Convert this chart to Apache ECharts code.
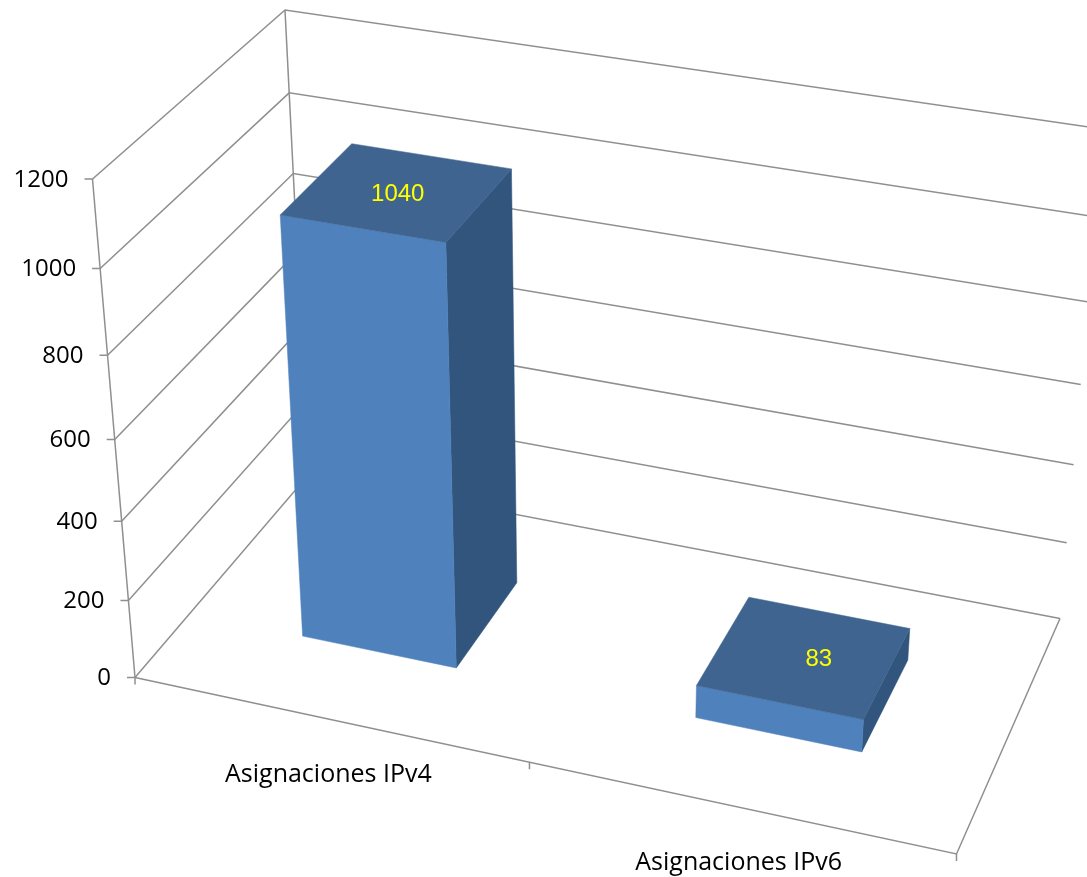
<!DOCTYPE html>
<html><head><meta charset="utf-8">
<style>html,body{margin:0;padding:0;background:#fff}#c{width:1087px;height:877px}</style>
<script src="https://cdn.jsdelivr.net/npm/echarts@6/dist/echarts.min.js"></script>
</head><body><div id="c"></div>
<script>
const categories = ['Asignaciones IPv4', 'Asignaciones IPv6'];
const assignments = [1040, 83];
const yTicks = [0, 200, 400, 600, 800, 1000, 1200];

const W = 1087, H = 877;
// Projected corners of the chart box (layout only)
const O = [135, 677.5], U = [956.5, 854], UD = [1060, 618.5], V = [92.5, 179], VD = [285, 10];
// depth vanishing point: where the two receding edges meet; the hidden back corner lies on its line through O
const Zs = (() => {
  const a = [UD[0] - U[0], UD[1] - U[1]], b = [VD[0] - V[0], VD[1] - V[1]];
  const s = ((V[0] - U[0]) * (-b[1]) - (V[1] - U[1]) * (-b[0])) / (a[0] * (-b[1]) - a[1] * (-b[0]));
  return [U[0] + a[0] * s, U[1] + a[1] * s];
})();
const backX = 308.5;
const D = [backX, O[1] + (Zs[1] - O[1]) * (backX - O[0]) / (Zs[0] - O[0])];
function quad(p0, p1, p2, p3) { // (0,0),(1,0),(1,1),(0,1) -> g,h
  const dx1 = p1[0] - p2[0], dx2 = p3[0] - p2[0], sx = p0[0] - p1[0] + p2[0] - p3[0];
  const dy1 = p1[1] - p2[1], dy2 = p3[1] - p2[1], sy = p0[1] - p1[1] + p2[1] - p3[1];
  const det = dx1 * dy2 - dx2 * dy1;
  return [(sx * dy2 - dx2 * sy) / det, (dx1 * sy - sx * dy1) / det];
}
const floorQ = quad(O, U, UD, D), wallQ = quad(O, V, VD, D);
const pu = floorQ[0], pd = floorQ[1], pv = wallQ[0];
const ax = U.map((c, i) => c * (1 + pu) - O[i]);
const bx = V.map((c, i) => c * (1 + pv) - O[i]);
const cx = D.map((c, i) => c * (1 + pd) - O[i]);
function P(u, v, d) {
  const k = 1 + pu * u + pv * v + pd * d;
  return [0, 1].map(i => (O[i] + ax[i] * u + bx[i] * v + cx[i] * d) / k);
}
const GREY = '#8f8f8f', LW = 1.5;
const DEPTH0 = 0.298, DEPTH1 = 0.698, BARW = 0.4;
const LABEL_DX = [0, 14], CAT_DX = [0, 0];
const vOf = (api, val) => (H - api.coord([0, val])[1]) / H;
const line = (pts) => ({ type: 'polyline', shape: { points: pts }, style: { stroke: GREY, lineWidth: LW, fill: null } });

function renderWall(params, api) {
  const val = api.value(1), v = vOf(api, val), a = P(0, v, 0), b = P(0, v, 1), c = P(1, v, 1);
  const children = [
    line([[a[0] - 8, a[1]], a, b, c]),
    { type: 'text', style: { text: String(val), x: a[0] - 24, y: a[1] + 1, textAlign: 'right', textVerticalAlign: 'middle', font: '24px "Open Sans"', fill: '#000' } }
  ];
  if (val < 1200) {
    const n = vOf(api, yTicks[params.dataIndex + 1]);
    children.push(line([a, P(0, n, 0)]), line([b, P(0, n, 1)]));
  }
  return { type: 'group', children };
}
function renderFloor(params, api) {
  const i = api.value(0), band = api.size([1, 0])[0] / W;
  const uc = api.coord([i, 0])[0] / W, f = P(uc, 0, 0);
  const children = [{ type: 'text', style: { text: categories[i], x: f[0] + CAT_DX[i], y: f[1] + 55.5, textAlign: 'center', textVerticalAlign: 'middle', font: '25px "Open Sans"', fill: '#000' } }];
  const r = P(uc + band / 2, 0, 0);
  children.push(line([r, [r[0], r[1] + 7]]));
  if (i === 0) {
    children.push(line([[O[0], O[1]], [O[0], O[1] + 7]]), line([O, U, UD]));
  }
  return { type: 'group', children };
}
function renderBar(params, api) {
  const i = api.value(0), val = api.value(1);
  const bw = api.size([1, 0])[0] / W * BARW, uc = api.coord([i, 0])[0] / W;
  const u0 = uc - bw / 2, u1 = uc + bw / 2, t = vOf(api, val);
  const poly = (pts, fill) => ({ type: 'polygon', shape: { points: pts }, style: { fill, stroke: fill, lineWidth: 0.5 } });
  const lab = P(uc, t, 0.5);
  return { type: 'group', children: [
    poly([P(u1, 0, DEPTH0), P(u1, 0, DEPTH1), P(u1, t, DEPTH1), P(u1, t, DEPTH0)], '#31557C'),
    poly([P(u0, 0, DEPTH0), P(u1, 0, DEPTH0), P(u1, t, DEPTH0), P(u0, t, DEPTH0)], '#4F81BD'),
    poly([P(u0, t, DEPTH0), P(u1, t, DEPTH0), P(u1, t, DEPTH1), P(u0, t, DEPTH1)], '#3E648F'),
    { type: 'text', style: { text: String(val), x: lab[0] + LABEL_DX[i], y: lab[1] + 3, textAlign: 'center', textVerticalAlign: 'middle', font: '24px "Liberation Sans"', fill: '#FFFF00' } }
  ] };
}
const chart = echarts.init(document.getElementById('c'), null, { width: W, height: H });
chart.setOption({
  animation: false,
  backgroundColor: '#fff',
  grid: { left: 0, right: 0, top: 0, bottom: 0 },
  xAxis: { type: 'category', data: categories, show: false },
  yAxis: { type: 'value', min: 0, max: 1200, interval: 200, show: false },
  series: [
    { type: 'custom', clip: false, z: 1, renderItem: renderWall, data: yTicks.map(t => [0, t]) },
    { type: 'custom', clip: false, z: 1, renderItem: renderFloor, data: categories.map((c, i) => [i, 0]) },
    { type: 'custom', clip: false, z: 2, renderItem: renderBar, data: assignments.map((a, i) => [i, a]) }
  ]
});
</script></body></html>
